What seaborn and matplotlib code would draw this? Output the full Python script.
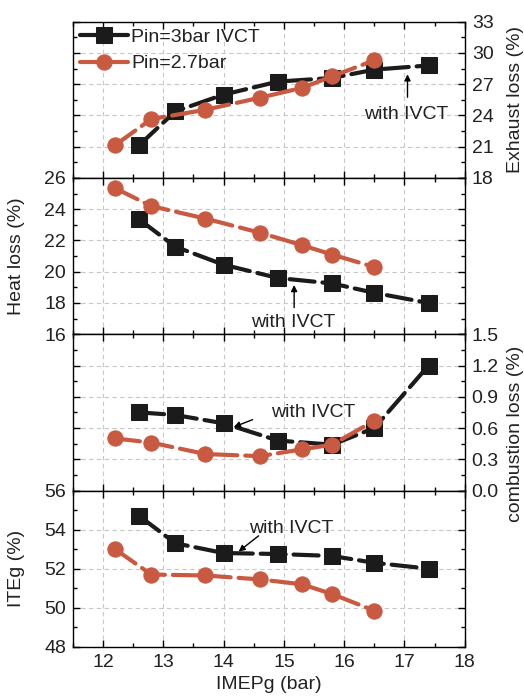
import numpy as np
import pandas as pd
import matplotlib
matplotlib.use("Agg")
import matplotlib.pyplot as plt
from matplotlib.ticker import MultipleLocator
import seaborn as sns

# ---- data ----
x_ivct = [12.6, 13.2, 14.0, 14.9, 15.8, 16.5, 17.4]
x_base = [12.2, 12.8, 13.7, 14.6, 15.3, 15.8, 16.5]

exhaust_ivct = [21.15, 24.4, 26.0, 27.25, 27.6, 28.4, 28.8]
exhaust_base = [21.15, 23.65, 24.55, 25.7, 26.65, 27.75, 29.3]

heat_ivct = [23.35, 21.6, 20.45, 19.6, 19.25, 18.65, 18.0]
heat_base = [25.35, 24.2, 23.4, 22.5, 21.7, 21.1, 20.3]

comb_ivct = [0.75, 0.725, 0.645, 0.48, 0.44, 0.60, 1.20]
comb_base = [0.50, 0.46, 0.35, 0.33, 0.395, 0.44, 0.67]

iteg_ivct = [54.7, 53.3, 52.8, 52.75, 52.65, 52.3, 52.0]
iteg_base = [53.0, 51.7, 51.65, 51.45, 51.2, 50.7, 49.85]

label_ivct = "Pin=3bar IVCT"
label_base = "Pin=2.7bar"
ylabels = ["Exhaust loss (%)", "Heat loss (%)", "combustion loss (%)", "ITEg (%)"]
xlabel = "IMEPg (bar)"

BLACK = "#1b1b1b"
RED = "#c95a42"
FS = 14

sns.set_theme(style="ticks")
plt.rcParams['font.family'] = ['Liberation Sans', 'DejaVu Sans']
plt.rcParams['font.size'] = FS

fig, axes = plt.subplots(4, 1, sharex=True, figsize=(5.24, 7.0), dpi=100)
fig.subplots_adjust(left=0.139, right=0.887, top=0.969, bottom=0.076, hspace=0)

panels = [
    (exhaust_ivct, exhaust_base, (18, 33), 3, 1.5, "right"),
    (heat_ivct, heat_base, (16, 26), 2, 1, "left"),
    (comb_ivct, comb_base, (0.0, 1.5), 0.3, 0.15, "right"),
    (iteg_ivct, iteg_base, (48, 56), 2, 1, "left"),
]

line_kw = dict(linewidth=3.0, markersize=11, dash_capstyle="round",
               solid_capstyle="round", linestyle=(0, (6, 1.9)))

for i, (ax, (yi, yb, ylim, maj, mnr, side)) in enumerate(zip(axes, panels)):
    d1 = pd.DataFrame({"x": x_ivct, "y": yi})
    d2 = pd.DataFrame({"x": x_base, "y": yb})
    sns.lineplot(data=d1, x="x", y="y", ax=ax, color=BLACK, marker="s",
                 markeredgecolor=BLACK, markerfacecolor=BLACK,
                 label=label_ivct if i == 0 else None, errorbar=None, **line_kw)
    sns.lineplot(data=d2, x="x", y="y", ax=ax, color=RED, marker="o",
                 markeredgecolor=RED, markerfacecolor=RED,
                 label=label_base if i == 0 else None, errorbar=None, **line_kw)
    ax.set_xlim(11.5, 18)
    ax.set_ylim(*ylim)
    ax.xaxis.set_major_locator(MultipleLocator(1))
    ax.xaxis.set_minor_locator(MultipleLocator(0.5))
    ax.yaxis.set_major_locator(MultipleLocator(maj))
    ax.yaxis.set_minor_locator(MultipleLocator(mnr))
    ax.grid(True, which="major", color="#c8c8c8", linestyle=(0, (4, 3)), linewidth=0.8)
    ax.set_axisbelow(True)
    ax.tick_params(which="both", direction="in", top=True, bottom=True,
                   left=True, right=True, colors="black", labelsize=FS,
                   labelleft=(side == "left"), labelright=(side == "right"))
    ax.tick_params(which="major", length=5, width=1, pad=5)
    ax.tick_params(which="minor", length=3, width=1)
    for lab in ax.get_yticklabels() + ax.get_xticklabels():
        lab.set_color("#222222")
    for s in ax.spines.values():
        s.set_color("black")
        s.set_linewidth(1.0)
    ax.set_xlabel("")
    ax.set_ylabel(ylabels[i], fontsize=FS, color="#222222")
    if side == "right":
        ax.yaxis.set_label_position("right")
        ax.yaxis.set_label_coords(1.107, 0.5)
        if ylim[0] == 0.0:
            ax.yaxis.set_major_formatter(matplotlib.ticker.FormatStrFormatter("%.1f"))
    else:
        ax.yaxis.set_label_coords(-0.122, 0.5)

axes[2].yaxis.set_label_coords(1.107, 0.36)

axes[3].set_xlabel(xlabel, fontsize=FS, color="#222222")
axes[3].tick_params(labelbottom=True)

leg = axes[0].legend(loc="upper left", frameon=False, fontsize=FS,
                     handlelength=2.5, borderaxespad=0.05, handletextpad=0.15,
                     labelspacing=0.45, borderpad=0.3)
for t in leg.get_texts():
    t.set_color("#222222")

arrow = dict(arrowstyle="-|>", color="black", lw=1.0, mutation_scale=9, shrinkA=0, shrinkB=0)
tkw = dict(fontsize=FS, ha="center", va="center", color="#222222")

axes[0].annotate("", xy=(17.05, 27.95), xytext=(17.05, 25.75), arrowprops=arrow)
axes[0].text(17.03, 24.1, "with IVCT", **tkw)

axes[1].annotate("", xy=(15.17, 19.15), xytext=(15.17, 17.7), arrowprops=arrow)
axes[1].text(15.15, 16.75, "with IVCT", **tkw)

axes[2].annotate("", xy=(14.17, 0.61), xytext=(14.48, 0.68), arrowprops=arrow)
axes[2].text(15.48, 0.75, "with IVCT", **tkw)

axes[3].annotate("", xy=(14.25, 52.88), xytext=(14.58, 53.68), arrowprops=arrow)
axes[3].text(15.12, 54.07, "with IVCT", **tkw)

fig.savefig("out.png", dpi=100)
